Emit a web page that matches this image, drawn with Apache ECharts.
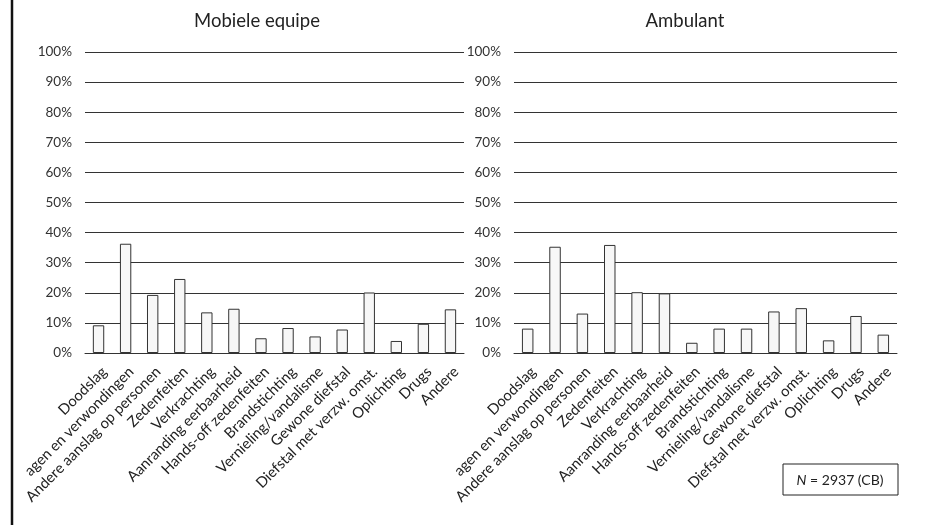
<!DOCTYPE html>
<html>
<head>
<meta charset="utf-8">
<script src="https://cdn.jsdelivr.net/npm/echarts@6/dist/echarts.min.js"></script>
<style>
  html, body { margin: 0; padding: 0; background: #fff; }
  #chart { width: 946px; height: 525px; }
</style>
</head>
<body>
<div id="chart"></div>
<script>
// categorieen (links afgekapt label zoals in het origineel)
const categories = [
  "Doodslag", "agen en verwondingen", "Andere aanslag op personen", "Zedenfeiten",
  "Verkrachting", "Aanranding eerbaarheid", "Hands-off zedenfeiten", "Brandstichting",
  "Vernieling/vandalisme", "Gewone diefstal", "Diefstal met verzw. omst.", "Oplichting",
  "Drugs", "Andere"
];
// Mobiele equipe (%)
const mobieleEquipe = [9.2, 36.3, 19.3, 24.6, 13.5, 14.7, 4.9, 8.3, 5.5, 7.8, 20.1, 4.0, 9.7, 14.5];
// Ambulant (%)
const ambulant = [8.1, 35.3, 13.1, 35.9, 20.2, 19.8, 3.4, 8.1, 8.1, 13.8, 14.9, 4.2, 12.3, 6.1];
const titles = ["Mobiele equipe", "Ambulant"];
const noteText = "2937 (CB)";

const FONT = "Lato, 'Open Sans', sans-serif";
const INK = "#222";

function xAx(gridIndex) {
  return {
    type: "category",
    gridIndex: gridIndex,
    data: categories,
    axisTick: { show: false },
    axisLine: { show: true, lineStyle: { color: "#333", width: 1 } },
    axisLabel: {
      interval: 0,
      rotate: 45,
      margin: 22,
      padding: [0, -8, 0, 0],
      color: INK,
      fontSize: 14.8,
      fontFamily: FONT
    }
  };
}

function yAx(gridIndex) {
  return {
    type: "value",
    gridIndex: gridIndex,
    min: 0,
    max: 100,
    interval: 10,
    axisLine: { show: false },
    axisTick: { show: false },
    axisLabel: {
      formatter: "{value}%",
      margin: 13,
      color: "#333",
      fontSize: 13.5,
      fontFamily: FONT
    },
    splitLine: { show: true, lineStyle: { color: "#333", width: 1 } }
  };
}

function barSerie(idx, data) {
  return {
    type: "bar",
    xAxisIndex: idx,
    yAxisIndex: idx,
    data: data,
    barWidth: "42%",
    itemStyle: { color: "#f7f7f7", borderColor: "#333", borderWidth: 1 },
    silent: true
  };
}

const chart = echarts.init(document.getElementById("chart"));
chart.setOption({
  animation: false,
  backgroundColor: "#fff",
  grid: [
    { left: 85, right: 482, top: 52, bottom: 172 },
    { left: 514, right: 49, top: 52, bottom: 172 }
  ],
  xAxis: [xAx(0), xAx(1)],
  yAxis: [yAx(0), yAx(1)],
  series: [barSerie(0, mobieleEquipe), barSerie(1, ambulant)],
  graphic: [
    // linker kader
    { type: "line", shape: { x1: 12, y1: 0, x2: 12, y2: 525 }, style: { stroke: "#111", lineWidth: 2.5 } },
    { type: "text", x: 257, y: 12, style: { text: titles[0], textAlign: "center", fill: INK, font: "18.5px " + FONT } },
    { type: "text", x: 685, y: 12, style: { text: titles[1], textAlign: "center", fill: INK, font: "18.5px " + FONT } },
    { type: "rect", shape: { x: 783, y: 464, width: 115, height: 31 }, style: { fill: "#fff", stroke: "#222", lineWidth: 1 } },
    {
      type: "text", x: 840, y: 480,
      style: {
        text: "{i|N} = " + noteText,
        textAlign: "center", textVerticalAlign: "middle",
        fill: INK, font: "14px " + FONT,
        rich: { i: { fontStyle: "italic", fontSize: 14, fontFamily: FONT, fill: INK } }
      }
    }
  ]
});
</script>
</body>
</html>
